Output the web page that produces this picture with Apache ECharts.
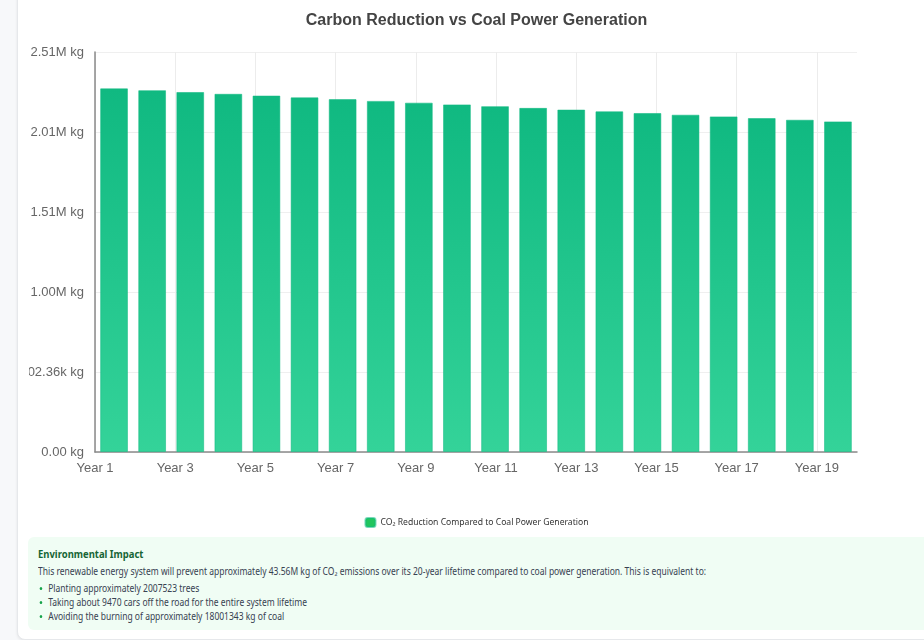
<!DOCTYPE html>
<html>
<head>
<meta charset="utf-8">
<script src="https://cdn.jsdelivr.net/npm/echarts@6/dist/echarts.min.js"></script>
<style>
  body { margin: 0; background: #f7f8fa; width: 924px; height: 640px; overflow: hidden; position: relative; }
  .card { position: absolute; left: 17px; top: -10px; width: 960px; height: 648px; background: #fff;
          border: 1px solid #e6e8eb; border-radius: 8px; box-shadow: 0 1px 3px rgba(0,0,0,0.08); }
  #chart { position: absolute; left: 29px; top: 0; width: 895px; height: 535px; }
  .impact { position: absolute; left: 28px; top: 537px; width: 920px; height: 93px; background: #f0fdf4;
            border-radius: 6px; font-family: "Noto Sans", sans-serif; color: #374151; }
  .impact .ttl { position: absolute; left: 10px; top: 10px; line-height: 14px; font-size: 11px; font-weight: bold;
                 color: #166534; transform: scaleX(0.86); transform-origin: left center; }
  .impact .row { position: absolute; left: 10px; line-height: 14px; font-size: 10px; white-space: nowrap;
                 transform: scaleX(0.85); transform-origin: left center; }
  .impact .dot { display: inline-block; width: 3px; height: 3px; border-radius: 50%; background: #16a34a;
                 margin: 0 7px 2px 2px; vertical-align: middle; }
</style>
</head>
<body>
<div class="card"></div>
<div id="chart"></div>
<div class="impact">
  <div class="ttl">Environmental Impact</div>
  <div class="row" style="top:27px">This renewable energy system will prevent approximately 43.56M kg of CO₂ emissions over its 20-year lifetime compared to coal power generation. This is equivalent to:</div>
  <div class="row" style="top:44px"><span class="dot"></span>Planting approximately 2007523 trees</div>
  <div class="row" style="top:58px"><span class="dot"></span>Taking about 9470 cars off the road for the entire system lifetime</div>
  <div class="row" style="top:72px"><span class="dot"></span>Avoiding the burning of approximately 18001343 kg of coal</div>
</div>
<script>
// data (kg of CO2 per year)
const years = ['Year 1', 'Year 2', 'Year 3', 'Year 4', 'Year 5', 'Year 6', 'Year 7', 'Year 8', 'Year 9', 'Year 10',
  'Year 11', 'Year 12', 'Year 13', 'Year 14', 'Year 15', 'Year 16', 'Year 17', 'Year 18', 'Year 19', 'Year 20'];
const co2Reduction = [2283500, 2272100, 2260700, 2249400, 2238200, 2227000, 2215900, 2204800, 2193800, 2182800,
  2171900, 2161000, 2150200, 2139500, 2128800, 2118100, 2107500, 2097000, 2086500, 2076100];
const yTickValues = [0, 502360, 1004720, 1507080, 2009440, 2511800];
const seriesName = 'CO₂ Reduction Compared to Coal Power Generation';

function kgLabel(v) {
  if (v >= 1e6) return (v / 1e6).toFixed(2) + 'M kg';
  if (v >= 1e3) return (v / 1e3).toFixed(2) + 'k kg';
  return v.toFixed(2) + ' kg';
}

const chart = echarts.init(document.getElementById('chart'));
const axisFont = "'Liberation Sans', Arial, sans-serif";

const option = {
  animation: false,
  title: {
    text: 'Carbon Reduction vs Coal Power Generation',
    left: 'center',
    top: 8,
    textStyle: { fontSize: 16, fontWeight: 'bold', color: '#444', fontFamily: axisFont },
  },
  legend: {
    left: 'center',
    top: 512,
    itemWidth: 10,
    itemHeight: 9,
    itemGap: 5,
    data: [{ name: seriesName, itemStyle: { color: '#22c55e' } }],
    textStyle: { fontSize: 8.6, color: '#333', fontFamily: "'Noto Sans', sans-serif" },
  },
  grid: {
    left: 66,
    right: 67,
    top: 52,
    bottom: 83,
    outerBoundsMode: 'none',
  },
  xAxis: [
    { // bars
      type: 'category',
      data: years,
      boundaryGap: true,
      show: false,
    },
    { // labels and vertical grid lines
      type: 'category',
      data: years,
      boundaryGap: false,
      position: 'bottom',
      axisLine: { lineStyle: { color: '#8a8a8a', width: 1.5 } },
      axisTick: { show: false },
      axisLabel: { interval: 1, color: '#666', fontSize: 13, margin: 10, fontFamily: axisFont },
      splitLine: { show: true, interval: 1, lineStyle: { color: '#ececec' } },
    },
  ],
  yAxis: {
    type: 'value',
    min: yTickValues[0],
    max: yTickValues[yTickValues.length - 1],
    interval: yTickValues[1] - yTickValues[0],
    axisLine: { show: true, lineStyle: { color: '#8a8a8a', width: 1.5 } },
    axisTick: { show: false },
    axisLabel: { color: '#666', fontSize: 13, margin: 11, fontFamily: axisFont, formatter: kgLabel },
    splitLine: { lineStyle: { color: '#efefef' } },
  },
  series: [{
    name: seriesName,
    type: 'bar',
    xAxisIndex: 0,
    barCategoryGap: '27%',
    itemStyle: {
      borderColor: 'rgba(16,185,129,0.55)',
      borderWidth: 1,
      color: new echarts.graphic.LinearGradient(0, 0, 0, 1, [
        { offset: 0, color: '#10b981' },
        { offset: 1, color: '#34d399' },
      ]),
    },
    data: co2Reduction,
  }],
};
chart.setOption(option);
</script>
</body>
</html>
